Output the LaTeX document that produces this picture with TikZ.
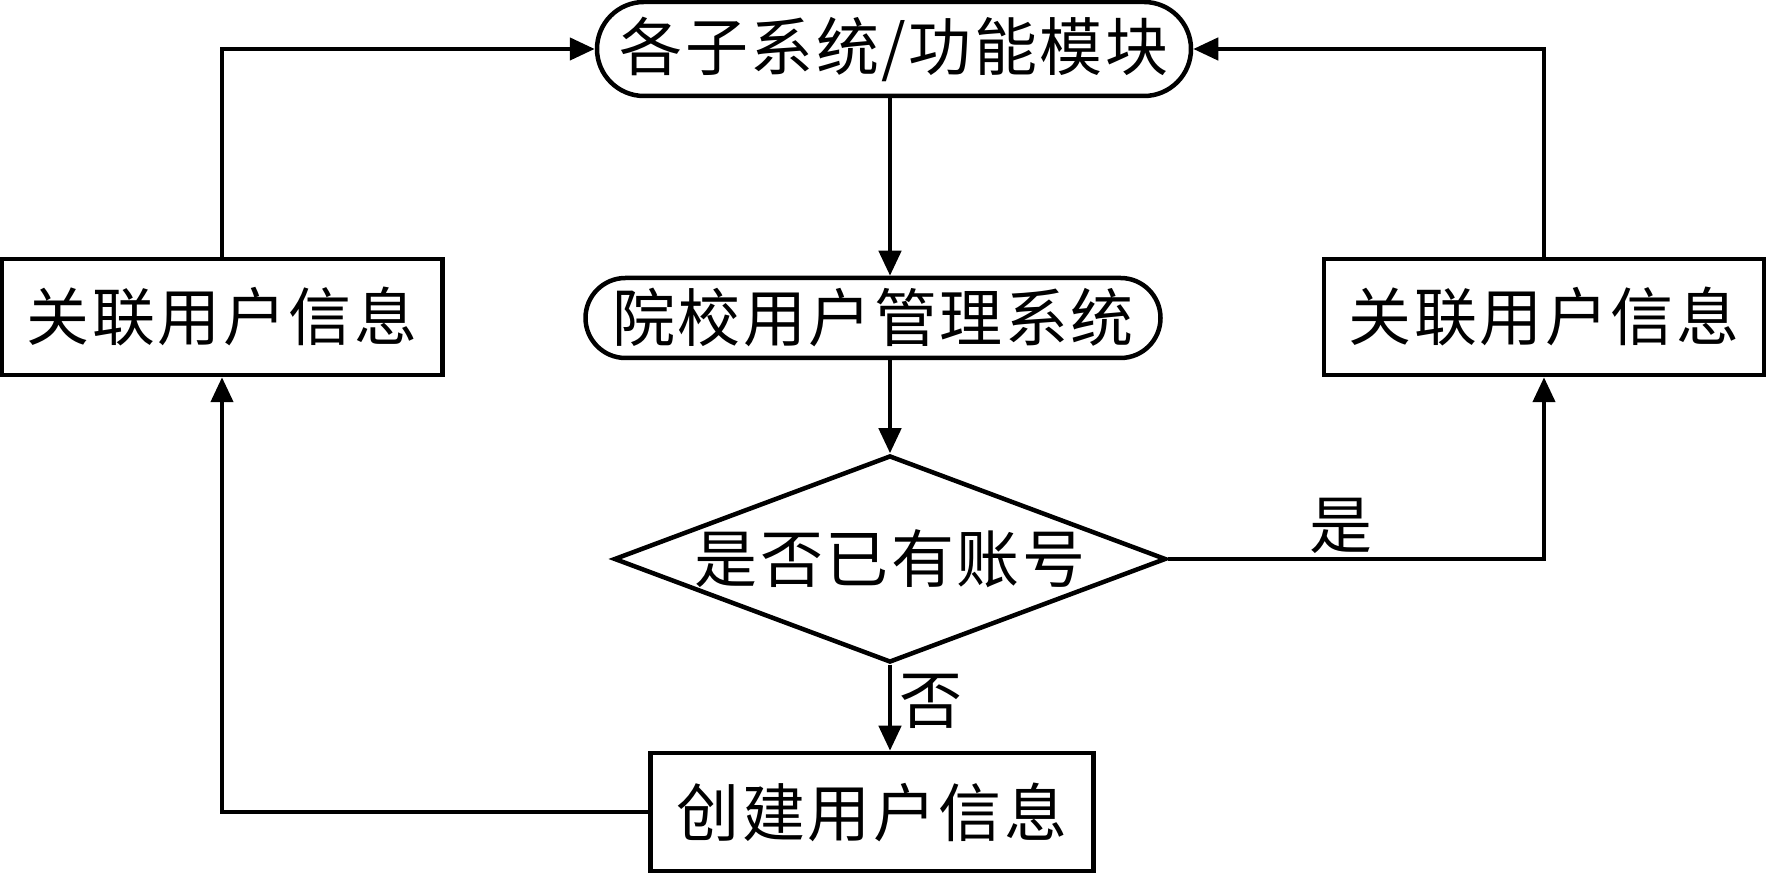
\documentclass[tikz,border=0pt]{standalone}
\usepackage{fontspec}
\usetikzlibrary{arrows.meta,shapes.misc,shapes.geometric}
\newfontfamily\cjk[LetterSpace=4]{Noto Sans CJK SC}
\begin{document}
\begin{tikzpicture}[x=1pt,y=1pt,
  every node/.style={font=\cjk\fontsize{63pt}{66pt}\selectfont, text=black},
  line/.style={line width=4.5pt, draw=black},
  arr/.style={line, -{Triangle[length=25pt,width=22pt]}},
  pill/.style={line, rounded rectangle, inner sep=0pt},
  boxnode/.style={line, rectangle, inner sep=0pt},
  decide/.style={line, diamond, aspect=2.67, inner sep=0pt}
]
\useasboundingbox (0,0) rectangle (1767,874);
\node[pill, minimum width=594pt, minimum height=94pt] (top) at (894,825) {各子系统/功能模块};
\node[pill, minimum width=575pt, minimum height=80pt] (mid) at (873,556) {院校用户管理系统};
\node[decide, minimum width=552pt, minimum height=207pt] (dia) at (890,315) {是否已有账号};
\node[boxnode, minimum width=443pt, minimum height=118pt] (bot) at (872,62) {创建用户信息};
\node[boxnode, minimum width=441pt, minimum height=116pt] (left) at (222,557) {关联用户信息};
\node[boxnode, minimum width=440pt, minimum height=116pt] (right) at (1544,557) {关联用户信息};

\draw[arr] (top.south -| dia.north) -- (mid.north -| dia.north);
\draw[arr] (mid.south -| dia.north) -- (dia.north);
\draw[arr] (dia.south) -- (dia.south |- bot.north)
  node[pos=0.42, right=4pt] (no) {否};
\draw[arr] (bot.west) -| (left.south);
\draw[arr] (left.north) |- (top.west);
\draw[arr] (dia.east) -| (right.south)
  node[pos=0.23, above=0pt] (yes) {是};
\draw[arr] (right.north) |- (top.east);
\end{tikzpicture}
\end{document}
